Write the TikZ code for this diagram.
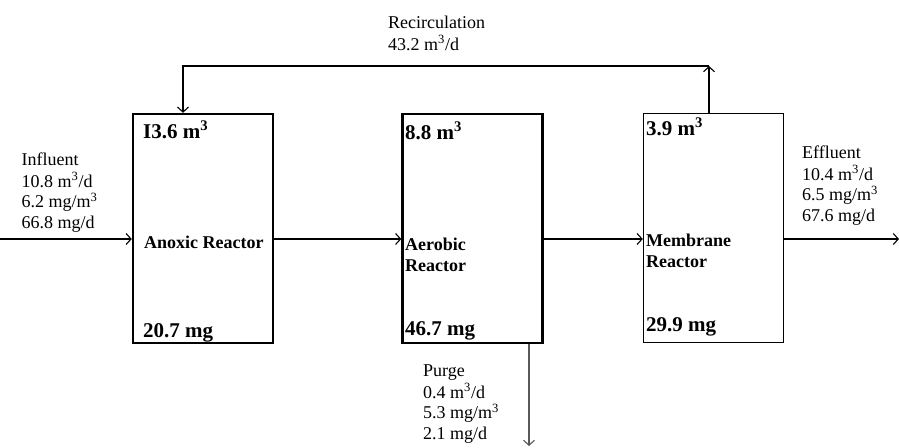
\documentclass[tikz,border=0pt]{standalone}
\usepackage{fontspec}
\setmainfont{Liberation Serif}
\usetikzlibrary{arrows.meta}
\begin{document}
\begin{tikzpicture}[x=1pt,y=-1pt,
  >={Straight Barb[length=5pt,width=11pt,line width=1.1pt]},
  reactor/.style={draw, line width=2.4pt, inner sep=0pt, minimum width=140pt, minimum height=229pt},
  thinreactor/.style={reactor, line width=1.4pt},
  flow/.style={->, line width=1.1pt},
  purgeflow/.style={->, line width=1.1pt, draw=black!65},
  lbl/.style={anchor=north west, inner sep=0pt, align=left, font=\fontsize{18}{20.6}\selectfont},
  vol/.style={anchor=base west, inner sep=0pt, font=\fontsize{21}{24}\selectfont\bfseries},
  title/.style={anchor=north west, inner sep=0pt, align=left, font=\fontsize{18}{21.5}\selectfont\bfseries}]
\useasboundingbox (0,0) rectangle (899,447);
% reactors
\node[reactor] (a) at (203,228.5) {};
\node[reactor] (b) at (472.5,228.5) {};
\node[thinreactor] (c) at (713.5,228) {};
% coordinates
\coordinate (in) at (0,239);
\coordinate (out) at (899,239);
\coordinate (r1) at (709,66);
\coordinate (r2) at (183,66);
\coordinate (p) at (529,446);
% connectors
\draw[flow] (in) -- (a.west |- in);
\draw[flow] (a.east |- in) -- (b.west |- in);
\draw[flow] (b.east |- in) -- (c.west |- in);
\draw[flow] (c.east |- in) -- (out);
\draw[flow] (c.north -| r1) -- (r1);
\draw[flow] (r1) -- (r2) -- (a.north -| r2);
\draw[purgeflow] (b.south -| p) -- (p);
% texts (north = first baseline - 0.7 baselineskip)
\node[lbl] (tin) at (21.5,150.6) {\strut Influent\\10.8 m\textsuperscript{3}/d\\6.2 mg/m\textsuperscript{3}\\66.8 mg/d};
\node[lbl] (trec) at (388,13.6) {\strut Recirculation\\43.2 m\textsuperscript{3}/d};
\node[lbl] (teff) at (802,143.6) {\strut Effluent\\10.4 m\textsuperscript{3}/d\\6.5 mg/m\textsuperscript{3}\\67.6 mg/d};
\node[lbl] (tpur) at (423,361.6) {\strut Purge\\0.4 m\textsuperscript{3}/d\\5.3 mg/m\textsuperscript{3}\\2.1 mg/d};
\node[vol] (av) at (143,138) {I3.6 m\textsuperscript{3}};
\node[vol] (am) at (143,337) {20.7 mg};
\node[vol] (bv) at (405,139) {8.8 m\textsuperscript{3}};
\node[vol] (bm) at (405,335) {46.7 mg};
\node[vol] (cv) at (646,135) {3.9 m\textsuperscript{3}};
\node[vol] (cm) at (646,331) {29.9 mg};
\node[title] (at) at (144,232.95) {\strut Anoxic Reactor};
\node[title] (bt) at (405,234.95) {\strut Aerobic\\Reactor};
\node[title] (ct) at (646,230.95) {\strut Membrane\\Reactor};
\end{tikzpicture}
\end{document}
